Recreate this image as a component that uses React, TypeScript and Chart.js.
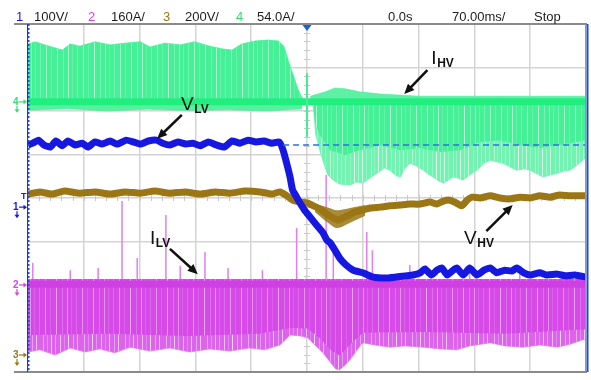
import React, { useEffect, useRef } from "react";
import { Chart, registerables } from "chart.js";

Chart.register(...registerables);

type Pt = [number, number];

// Horizontal axis: time in ms (70 ms/div, trigger at 0). Vertical axis: screen divisions.
const T_MIN = -350;
const T_MAX = 350;
const T_DIV = 70;
const V_MIN = -4;
const V_MAX = 4;

// Status line
const channelNames = ["1", "2", "3", "4"];
const channelScales = ["100V/", "160A/", "200V/", "54.0A/"];
const delayText = "0.0s";
const timebaseText = "70.00ms/";
const runText = "Stop";

// Channel 4: I_HV (switching current, shown as envelopes around its zero line)
const ihvZero = 2.21;
const ihvPosEnvelope: Pt[] = [
  [-350, 3.54], [-341, 3.59], [-329, 3.52], [-316, 3.45], [-307, 3.4], [-297, 3.54],
  [-285, 3.49], [-266, 3.59], [-247, 3.52], [-228, 3.56], [-209, 3.59], [-197, 3.47],
  [-178, 3.56], [-159, 3.52], [-141, 3.59], [-122, 3.49], [-107, 3.43], [-94, 3.4],
  [-82, 3.54], [-65, 3.61], [-49, 3.63], [-36, 3.61], [-29, 3.49], [-23, 3.13],
  [-16, 2.76], [-11, 2.48], [-6, 2.3], [-1, 2.21],
];
const ihvPreNegEnvelope: Pt[] = [
  [-350, 2.02], [-300, 2.05], [-250, 2.0], [-200, 2.04], [-150, 2.01], [-100, 2.03],
  [-50, 2.0], [-6, 2.05],
];
const ihvNegEnvelope: Pt[] = [
  [0, 2.21], [4, 2.17], [8, 2.1], [11, 1.45], [16, 1.1], [21, 0.8], [26, 0.53], [33, 0.41],
  [41, 0.32], [54, 0.3], [63, 0.37], [70, 0.34], [79, 0.46], [88, 0.57], [97, 0.69],
  [104, 0.64], [112, 0.51], [117, 0.48], [123, 0.69], [129, 0.8], [137, 0.74], [146, 0.64],
  [152, 0.55], [158, 0.48], [164, 0.41], [171, 0.34], [177, 0.41], [183, 0.48], [189, 0.46],
  [196, 0.41], [204, 0.53], [213, 0.64], [222, 0.8], [230, 0.87], [238, 0.83], [246, 0.8],
  [255, 0.71], [263, 0.64], [272, 0.67], [280, 0.64], [289, 0.55], [296, 0.48], [305, 0.53],
  [314, 0.57], [322, 0.62], [330, 0.64], [339, 0.76], [346, 0.87], [350, 0.92],
];
const ihvNegCore: Pt[] = [
  [8, 2.02], [11, 1.68], [16, 1.45], [29, 1.1], [48, 0.99], [66, 1.1], [92, 1.22],
  [117, 1.1], [142, 1.15], [167, 1.06], [192, 1.1], [217, 1.29], [242, 1.33], [267, 1.22],
  [292, 1.15], [317, 1.22], [350, 1.33],
];
const ihvPostPosEnvelope: Pt[] = [
  [4, 2.34], [23, 2.44], [35, 2.53], [48, 2.51], [66, 2.44], [92, 2.39], [142, 2.34],
  [242, 2.34], [350, 2.34],
];
const ihvGlitch: Pt[] = [[0, 2.87]];
const ihvGlitchLow = 1.4;

// Channel 1: V_LV
const vlvTrace: Pt[] = [
  [-350, 1.22], [-344, 1.26], [-337, 1.33], [-330, 1.22], [-322, 1.17], [-315, 1.31],
  [-307, 1.2], [-300, 1.31], [-291, 1.22], [-282, 1.26], [-275, 1.17], [-266, 1.29],
  [-257, 1.24], [-247, 1.31], [-238, 1.24], [-227, 1.33], [-218, 1.29], [-209, 1.24],
  [-199, 1.31], [-189, 1.33], [-181, 1.26], [-172, 1.22], [-162, 1.29], [-152, 1.24],
  [-143, 1.26], [-134, 1.2], [-124, 1.29], [-114, 1.22], [-104, 1.17], [-94, 1.31],
  [-84, 1.26], [-74, 1.33], [-64, 1.29], [-54, 1.31], [-44, 1.26], [-35, 1.29],
  [-30, 1.1], [-25, 0.76], [-21, 0.46], [-18, 0.18], [-13, 0.02], [-9, -0.11], [-3, -0.28],
  [4, -0.44], [11, -0.6], [20, -0.8], [25, -0.97], [29, -1.03], [35, -1.2], [41, -1.38],
  [49, -1.54], [58, -1.66], [70, -1.72], [83, -1.82], [98, -1.84], [110, -1.82],
  [123, -1.79], [133, -1.77], [142, -1.72], [148, -1.63], [156, -1.77], [163, -1.66],
  [169, -1.61], [176, -1.77], [182, -1.68], [188, -1.61], [196, -1.77], [204, -1.61],
  [213, -1.77], [222, -1.66], [230, -1.61], [238, -1.72], [248, -1.66], [257, -1.68],
  [263, -1.61], [272, -1.72], [280, -1.77], [292, -1.72], [301, -1.77], [314, -1.75],
  [324, -1.79], [336, -1.77], [350, -1.82],
];
const vlvReference: Pt[] = [[-30, 1.22], [350, 1.22]];

// Channel 3: V_HV
const vhvTrace: Pt[] = [
  [-350, 0.09], [-335, 0.14], [-320, 0.09], [-304, 0.16], [-285, 0.11], [-266, 0.14],
  [-247, 0.09], [-228, 0.14], [-209, 0.11], [-191, 0.16], [-172, 0.11], [-153, 0.14],
  [-134, 0.09], [-115, 0.14], [-97, 0.11], [-78, 0.16], [-59, 0.14], [-44, 0.09],
  [-34, 0.14], [-25, 0.05], [-18, -0.05], [-9, -0.09], [0, -0.11], [8, -0.18], [16, -0.25],
  [25, -0.37], [33, -0.46], [39, -0.51], [45, -0.46], [53, -0.39], [60, -0.32], [69, -0.28],
  [79, -0.23], [92, -0.21], [104, -0.18], [117, -0.16], [129, -0.14], [142, -0.14],
  [154, -0.09], [163, -0.14], [171, -0.07], [179, -0.05], [187, -0.11], [194, -0.18],
  [201, -0.05], [207, 0.02], [217, 0], [230, 0.05], [242, 0], [255, -0.02], [267, 0.02],
  [280, 0], [292, 0.05], [305, 0.02], [317, 0.07], [330, 0.05], [350, 0.05],
];
const vhvDipHigh: Pt[] = [[10, -0.14], [25, -0.21], [38, -0.28], [54, -0.23], [73, -0.16]];
const vhvDipLow: Pt[] = [[10, -0.32], [25, -0.55], [38, -0.69], [54, -0.57], [73, -0.41]];

// Channel 2: I_LV (envelope below its top line, plus isolated upward spikes)
const ilvTop = -1.86;
const ilvLine = -1.98;
const ilvNegEnvelope: Pt[] = [
  [-350, -3.54], [-335, -3.49], [-316, -3.61], [-297, -3.45], [-278, -3.54], [-260, -3.47],
  [-241, -3.56], [-222, -3.43], [-197, -3.52], [-172, -3.45], [-147, -3.54], [-122, -3.47],
  [-97, -3.52], [-72, -3.45], [-53, -3.49], [-34, -3.38], [-21, -3.15], [-9, -3.17],
  [0, -3.2], [10, -3.38], [20, -3.56], [29, -3.77], [36, -3.93], [41, -3.95], [48, -3.84],
  [54, -3.72], [63, -3.49], [70, -3.33], [85, -3.38], [104, -3.43], [123, -3.4],
  [146, -3.43], [167, -3.47], [188, -3.49], [204, -3.4], [230, -3.33], [248, -3.4],
  [271, -3.43], [292, -3.38], [314, -3.43], [330, -3.36], [346, -3.26], [350, -3.26],
];
const ilvNegCore: Pt[] = [
  [-350, -3.15], [-250, -3.12], [-150, -3.17], [-60, -3.12], [-20, -2.98], [0, -3.0],
  [15, -3.2], [30, -3.5], [41, -3.62], [55, -3.35], [70, -3.1], [150, -3.08],
  [250, -3.12], [350, -3.02],
];
const ilvSpikes: Pt[] = [
  [-344, -1.49], [-297, -1.66], [-262, -1.61], [-232, -0.07], [-213, -1.38], [-177, -0.39],
  [-159, -1.56], [-128, -1.24], [-99, -1.61], [-56, -1.66], [-13, -0.69], [24, 0.53],
  [33, -1.13], [75, -0.78], [82, -1.2], [129, -1.54], [204, -1.61], [267, -1.56],
];

// Channel zero markers on the left edge (screen divisions)
const ch4Marker = ihvZero;
const ch1Marker = -0.21;
const trigLevel = 0.02;
const ch2Marker = -2.0;
const ch3Marker = -3.61;

// Callouts: [main, subscript, textT, textV, tailT, tailV, headT, headV]
const callouts: [string, string, number, number, number, number, number, number][] = [
  ["I", "HV", 156, 3.08, 151, 2.94, 122, 2.39],
  ["V", "LV", -158, 2.02, -157, 1.91, -188, 1.36],
  ["I", "LV", -197, -1.06, -172, -1.17, -137, -1.75],
  ["V", "HV", 197, -1.06, 225, -0.76, 258, -0.16],
];

const COL_CH1 = "#1717e2";
const COL_CH2 = "#d444e6";
const COL_CH3 = "#9a7714";
const COL_CH4 = "#22ee80";

const xy = (pts: Pt[]) => pts.map(([x, y]) => ({ x, y }));
const spikes = (pts: Pt[], base: number) =>
  pts.flatMap(([x, y]) => [
    { x, y: base },
    { x, y },
    { x, y: null as number | null },
  ]);

// Builds a fill texture of thin vertical strokes: `base` everywhere, with the
// listed columns replaced by lighter strokes.
function stripes(width: number, base: string, accents: [number, string][]): CanvasPattern | string {
  const c = document.createElement("canvas");
  c.width = width;
  c.height = 2;
  const g = c.getContext("2d");
  if (!g) return base;
  g.fillStyle = base;
  g.fillRect(0, 0, width, 2);
  accents.forEach(([i, col]) => {
    g.fillStyle = col;
    g.fillRect(i, 0, 1, 2);
  });
  return g.createPattern(c, "repeat") ?? base;
}

function drawArrow(ctx: CanvasRenderingContext2D, x1: number, y1: number, x2: number, y2: number) {
  const a = Math.atan2(y2 - y1, x2 - x1);
  const head = 10;
  ctx.strokeStyle = "#111";
  ctx.fillStyle = "#111";
  ctx.lineWidth = 2.6;
  ctx.beginPath();
  ctx.moveTo(x1, y1);
  ctx.lineTo(x2 - Math.cos(a) * head * 0.8, y2 - Math.sin(a) * head * 0.8);
  ctx.stroke();
  ctx.beginPath();
  ctx.moveTo(x2, y2);
  ctx.lineTo(x2 - head * Math.cos(a) + 4.5 * Math.sin(a), y2 - head * Math.sin(a) - 4.5 * Math.cos(a));
  ctx.lineTo(x2 - head * Math.cos(a) - 4.5 * Math.sin(a), y2 - head * Math.sin(a) + 4.5 * Math.cos(a));
  ctx.closePath();
  ctx.fill();
}

function drawMarker(ctx: CanvasRenderingContext2D, label: string, y: number, color: string) {
  ctx.fillStyle = color;
  ctx.strokeStyle = color;
  ctx.font = "bold 10px Arial, sans-serif";
  ctx.textBaseline = "middle";
  ctx.textAlign = "left";
  ctx.fillText(label, 13, y);
  ctx.lineWidth = 1.2;
  ctx.beginPath();
  ctx.moveTo(19, y);
  ctx.lineTo(24, y);
  ctx.stroke();
  ctx.beginPath();
  ctx.moveTo(27, y);
  ctx.lineTo(23.5, y - 2.5);
  ctx.lineTo(23.5, y + 2.5);
  ctx.closePath();
  ctx.fill();
  ctx.beginPath();
  ctx.moveTo(17, y + 4);
  ctx.lineTo(17, y + 8);
  ctx.stroke();
  ctx.beginPath();
  ctx.moveTo(17, y + 11);
  ctx.lineTo(14.5, y + 7.5);
  ctx.lineTo(19.5, y + 7.5);
  ctx.closePath();
  ctx.fill();
}

const scopeOverlay = {
  id: "scopeOverlay",
  beforeDatasetsDraw(chart: Chart) {
    const { ctx, scales } = chart;
    const x0 = scales.x.getPixelForValue(0);
    const y0 = scales.y.getPixelForValue(0);
    ctx.save();
    ctx.strokeStyle = "#c8c8c8";
    ctx.lineWidth = 1;
    for (let v = V_MIN; v <= V_MAX + 1e-6; v += 0.2) {
      const y = Math.round(scales.y.getPixelForValue(v)) + 0.5;
      ctx.beginPath();
      ctx.moveTo(x0 - 3, y);
      ctx.lineTo(x0 + 3, y);
      ctx.stroke();
    }
    for (let t = T_MIN; t <= T_MAX + 1e-6; t += T_DIV / 5) {
      const x = Math.round(scales.x.getPixelForValue(t)) + 0.5;
      ctx.beginPath();
      ctx.moveTo(x, y0 - 3);
      ctx.lineTo(x, y0 + 3);
      ctx.stroke();
    }
    ctx.restore();
  },
  afterDraw(chart: Chart) {
    const { ctx, chartArea: a, scales } = chart;
    const px = (t: number) => scales.x.getPixelForValue(t);
    const py = (v: number) => scales.y.getPixelForValue(v);
    ctx.save();

    // frame
    ctx.strokeStyle = "#8a8a8a";
    ctx.lineWidth = 2;
    ctx.beginPath();
    ctx.moveTo(14, a.top);
    ctx.lineTo(a.right + 1, a.top);
    ctx.moveTo(14, a.bottom);
    ctx.lineTo(a.right + 1, a.bottom);
    ctx.stroke();
    ctx.strokeStyle = "#3a3a5a";
    ctx.lineWidth = 1;
    ctx.beginPath();
    ctx.moveTo(a.left - 0.5, a.top);
    ctx.lineTo(a.left - 0.5, a.bottom);
    ctx.stroke();
    ctx.strokeStyle = "#2050d0";
    ctx.setLineDash([2, 2]);
    ctx.lineWidth = 1.5;
    ctx.beginPath();
    ctx.moveTo(a.left + 0.8, a.top);
    ctx.lineTo(a.left + 0.8, a.bottom);
    ctx.stroke();
    ctx.setLineDash([]);
    ctx.strokeStyle = "#9a9a9a";
    ctx.lineWidth = 1;
    ctx.beginPath();
    ctx.moveTo(a.right - 0.5, a.top);
    ctx.lineTo(a.right - 0.5, a.bottom);
    ctx.stroke();
    ctx.strokeStyle = "#1f4fc8";
    ctx.lineWidth = 2;
    ctx.beginPath();
    ctx.moveTo(a.right + 1.5, a.top);
    ctx.lineTo(a.right + 1.5, a.bottom);
    ctx.stroke();

    // trigger position marker
    const tx = px(0);
    ctx.fillStyle = "#1f5fd0";
    ctx.beginPath();
    ctx.moveTo(tx - 4.5, a.top + 1);
    ctx.lineTo(tx + 4.5, a.top + 1);
    ctx.lineTo(tx, a.top + 7);
    ctx.closePath();
    ctx.fill();

    // status line
    ctx.textBaseline = "alphabetic";
    ctx.textAlign = "left";
    ctx.font = '13px "Liberation Sans", Arial, sans-serif';
    const chColors = [COL_CH1, COL_CH2, COL_CH3, "#33dd77"];
    const numX = [16, 88, 163, 236];
    const scaleX = [34, 111, 185, 257];
    channelNames.forEach((n, i) => {
      ctx.fillStyle = chColors[i];
      ctx.fillText(n, numX[i], 21);
      ctx.fillStyle = "#1c1c1c";
      ctx.fillText(channelScales[i], scaleX[i], 21);
    });
    ctx.fillStyle = "#1c1c1c";
    ctx.fillText(delayText, 388, 21);
    ctx.fillText(timebaseText, 452, 21);
    ctx.fillText(runText, 534, 21);

    // channel markers
    drawMarker(ctx, "4", py(ch4Marker), "#33dd77");
    drawMarker(ctx, "1", py(ch1Marker), COL_CH1);
    drawMarker(ctx, "2", py(ch2Marker), COL_CH2);
    drawMarker(ctx, "3", py(ch3Marker), COL_CH3);
    ctx.fillStyle = COL_CH1;
    ctx.font = "bold 9px Arial, sans-serif";
    ctx.textBaseline = "middle";
    ctx.fillText("T", 21, py(trigLevel) - 1);

    // callouts
    ctx.textBaseline = "alphabetic";
    callouts.forEach(([main, sub, t, v, t1, v1, t2, v2]) => {
      ctx.fillStyle = "#111";
      ctx.font = '19px "Liberation Sans", Arial, sans-serif';
      const x = px(t);
      const y = py(v);
      ctx.fillText(main, x, y);
      const w = ctx.measureText(main).width;
      ctx.font = 'bold 12px "Liberation Sans", Arial, sans-serif';
      ctx.fillText(sub, x + w + 0.5, y + 3);
      drawArrow(ctx, px(t1), py(v1), px(t2), py(v2));
    });

    ctx.restore();
  },
};

export default function App() {
  const ref = useRef<HTMLCanvasElement | null>(null);

  useEffect(() => {
    const canvas = ref.current;
    if (!canvas) return;

    const greenDense = stripes(37, "#45f096", [
      [3, "#6ff3b1"], [9, "#9af6c8"], [14, "#62f2a8"], [20, "#b6f8d7"], [26, "#74f3b4"],
      [31, "#a4f7cd"], [35, "#62f2a8"],
    ]);
    const greenLight = stripes(41, "#72f3b2", [
      [2, "#b4f8d6"], [5, "#92f5c3"], [9, "#d8fbe9"], [13, "#9cf6c9"], [17, "#c6f9df"],
      [22, "#8ff5c1"], [26, "#e2fcef"], [30, "#a8f7cf"], [34, "#cdfae3"], [38, "#94f5c5"],
    ]);
    const magentaDense = stripes(37, "#d64ae8", [
      [2, "#dd6aec"], [8, "#e592f1"], [13, "#db60eb"], [19, "#e9a2f3"], [25, "#de70ed"],
      [30, "#e590f1"], [34, "#db60eb"],
    ]);
    const magentaLight = stripes(41, "#dc64eb", [
      [2, "#eaa8f4"], [6, "#e48af0"], [10, "#f3cdf8"], [14, "#e796f2"], [19, "#efbcf6"],
      [23, "#e284ef"], [27, "#f5d6f9"], [32, "#e99ff3"], [36, "#f0c2f6"],
    ]);

    const line = {
      pointRadius: 0,
      pointHoverRadius: 0,
      fill: false as const,
      tension: 0,
      spanGaps: false,
    };

    const chart = new Chart(canvas, {
      type: "line",
      data: {
        datasets: [
          // I_HV before the transfer: positive envelope
          { ...line, data: xy(ihvPosEnvelope), fill: { value: ihvZero }, backgroundColor: greenDense,
            borderColor: "rgba(70,240,150,0.8)", borderWidth: 1, order: 30 },
          { ...line, data: xy(ihvPreNegEnvelope), fill: { value: ihvZero }, backgroundColor: "#55f0a0",
            borderColor: "rgba(70,240,150,0.6)", borderWidth: 1, order: 29 },
          // I_HV after the transfer: negative envelope and its denser core
          { ...line, data: xy(ihvNegEnvelope), fill: { value: ihvZero }, backgroundColor: greenLight,
            borderColor: "rgba(110,243,175,0.8)", borderWidth: 1, order: 28 },
          { ...line, data: xy(ihvNegCore), fill: { value: ihvZero }, backgroundColor: greenDense,
            borderColor: "rgba(0,0,0,0)", borderWidth: 0, order: 27 },
          { ...line, data: xy(ihvPostPosEnvelope), fill: { value: ihvZero }, backgroundColor: "#5ef1a6",
            borderColor: "rgba(70,240,150,0.6)", borderWidth: 1, order: 26 },
          { ...line, data: [{ x: T_MIN, y: ihvZero }, { x: T_MAX, y: ihvZero }], borderColor: COL_CH4,
            borderWidth: 7, order: 25 },
          { ...line, data: spikes(ihvGlitch, ihvGlitchLow), borderColor: "#44ee90", borderWidth: 2, order: 24 },
          // I_LV
          { ...line, data: xy(ilvNegEnvelope), fill: { value: ilvTop }, backgroundColor: magentaLight,
            borderColor: "rgba(222,120,238,0.7)", borderWidth: 1, order: 20 },
          { ...line, data: xy(ilvNegCore), fill: { value: ilvTop }, backgroundColor: magentaDense,
            borderColor: "rgba(0,0,0,0)", borderWidth: 0, order: 19 },
          { ...line, data: [{ x: T_MIN, y: ilvLine }, { x: T_MAX, y: ilvLine }], borderColor: "#d03fe4",
            borderWidth: 7, order: 18 },
          { ...line, data: spikes(ilvSpikes, ilvTop), borderColor: "#e27ff0", borderWidth: 1.5, order: 17 },
          // V_HV
          { ...line, data: xy(vhvDipHigh), fill: "+1", backgroundColor: "rgba(154,119,20,0.85)",
            borderColor: "rgba(0,0,0,0)", borderWidth: 0, tension: 0.3, order: 12 },
          { ...line, data: xy(vhvDipLow), borderColor: "rgba(0,0,0,0)", borderWidth: 0, tension: 0.3, order: 11 },
          { ...line, data: xy(vhvTrace), borderColor: COL_CH3, borderWidth: 7, tension: 0.15,
            borderJoinStyle: "round" as const, order: 9 },
          // V_LV
          { ...line, data: xy(vlvTrace), borderColor: COL_CH1, borderWidth: 7, tension: 0.15,
            borderJoinStyle: "round" as const, order: 5 },
          { ...line, data: xy(vlvReference), borderColor: "#2f6fe0", borderWidth: 1.6,
            borderDash: [6, 4], order: 4 },
        ],
      },
      options: {
        animation: false,
        responsive: false,
        events: [],
        layout: { padding: { left: 28, top: 24, right: 5, bottom: 8 } },
        plugins: { legend: { display: false }, tooltip: { enabled: false } },
        scales: {
          x: {
            type: "linear",
            min: T_MIN,
            max: T_MAX,
            offset: false,
            ticks: { display: false, stepSize: T_DIV },
            grid: { color: "#d4d4d4", lineWidth: 1.5, drawTicks: false, offset: false },
            border: { display: false },
          },
          y: {
            type: "linear",
            min: V_MIN,
            max: V_MAX,
            ticks: { display: false, stepSize: 1 },
            grid: { color: "#d4d4d4", lineWidth: 1.5, drawTicks: false },
            border: { display: false },
          },
        },
      },
      plugins: [scopeOverlay],
    });

    return () => chart.destroy();
  }, []);

  return (
    <div style={{ position: "absolute", left: 0, top: 0, width: 591, height: 380, background: "#fff" }}>
      <canvas ref={ref} width={591} height={380} style={{ display: "block" }} />
    </div>
  );
}
